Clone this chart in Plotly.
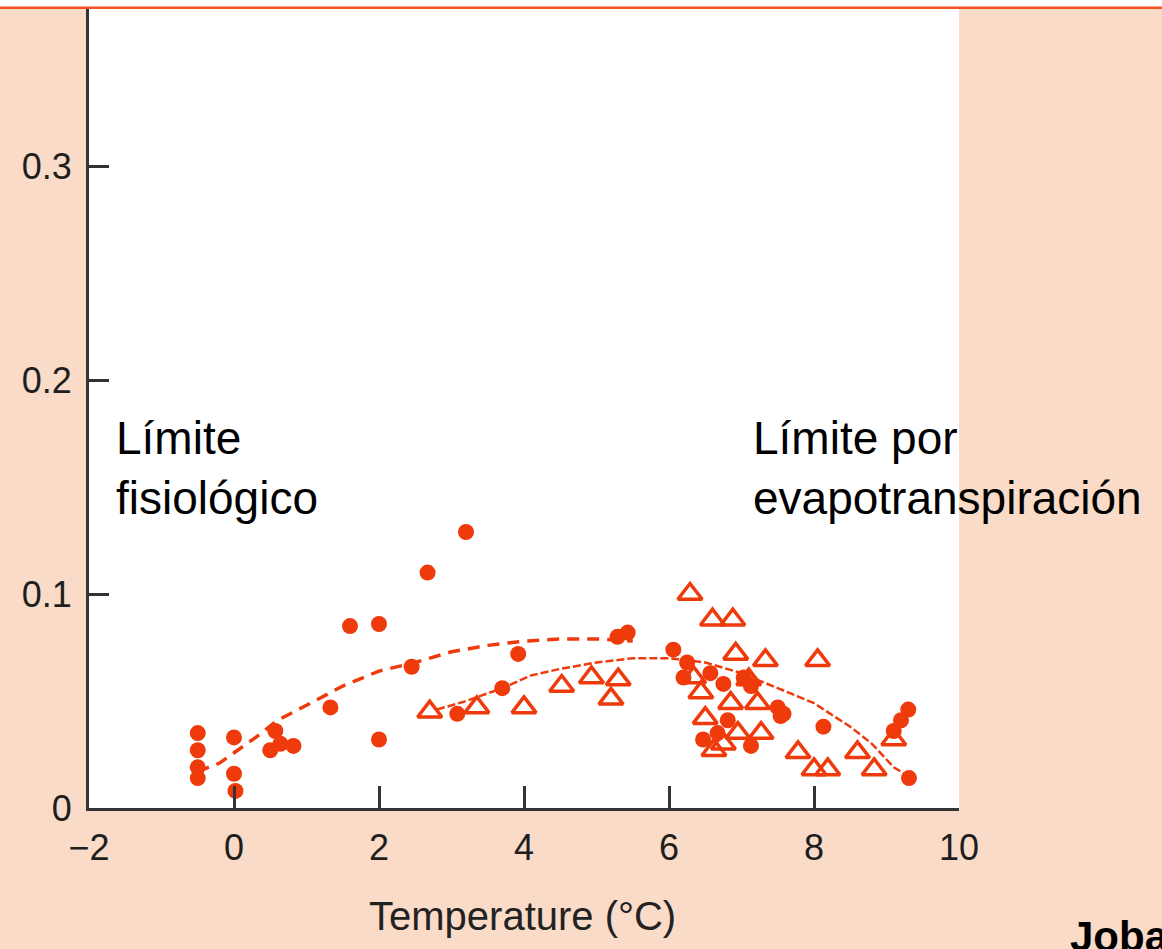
import plotly.graph_objects as go

# ---- data ----
circle_T = [-0.5, -0.5, -0.5, -0.5, 0.0, 0.0, 0.02, 0.5, 0.64, 0.82, 0.57,
            1.33, 1.6, 2.0, 2.0, 2.67, 3.2, 2.45, 3.08, 3.7, 3.92, 5.29, 5.43,
            6.06, 6.25, 6.2, 6.57, 6.75, 7.03, 7.13, 7.5, 7.54, 6.81, 6.67, 7.13, 6.47,
            7.58, 8.13, 9.2, 9.3, 9.1, 9.31]
circle_v = [0.035, 0.027, 0.019, 0.014, 0.033, 0.016, 0.008, 0.027, 0.030, 0.029, 0.036,
            0.047, 0.085, 0.086, 0.032, 0.110, 0.129, 0.066, 0.044, 0.056, 0.072, 0.080, 0.082,
            0.074, 0.068, 0.061, 0.063, 0.058, 0.061, 0.057, 0.047, 0.043, 0.041, 0.035, 0.029, 0.032,
            0.044, 0.038, 0.041, 0.046, 0.036, 0.014]

tri_T = [2.7, 3.35, 4.0, 4.52, 4.93, 5.2, 5.3,
         6.29, 6.6, 6.88, 6.92, 7.33, 6.34, 6.44, 6.85, 7.22, 6.95, 7.27, 6.62, 7.78,
         8.05, 8.0, 8.19, 8.6, 8.83, 9.1, 7.1, 6.5, 6.75]
tri_v = [0.045, 0.047, 0.047, 0.057, 0.061, 0.051, 0.060,
         0.100, 0.088, 0.088, 0.072, 0.069, 0.061, 0.054, 0.049, 0.049, 0.035, 0.035, 0.027, 0.026,
         0.069, 0.018, 0.018, 0.026, 0.018, 0.032, 0.060, 0.042, 0.030]

fit_circle_T = [-0.5, -0.2, 0.3, 0.6, 1.0, 1.5, 2.0, 2.5, 3.0, 3.5, 4.0, 4.5, 5.0, 5.5]
fit_circle_v = [0.017, 0.021, 0.033, 0.041, 0.048, 0.057, 0.064, 0.068, 0.073, 0.076, 0.078, 0.079, 0.079, 0.078]

fit_tri_T = [2.8, 3.2, 3.7, 4.1, 4.5, 5.0, 5.5, 6.0, 6.5, 7.0, 7.5, 8.0, 8.5, 8.8, 9.1, 9.3]
fit_tri_v = [0.046, 0.050, 0.056, 0.062, 0.065, 0.068, 0.070, 0.070, 0.068, 0.063, 0.056, 0.049, 0.038, 0.030, 0.019, 0.015]

x_ticks = [-2, 0, 2, 4, 6, 8, 10]
x_ticktext = ["\u22122", "0", "2", "4", "6", "8", "10"]
y_ticks = [0, 0.1, 0.2, 0.3]
y_ticktext = ["0", "0.1", "0.2", "0.3"]

RED = "#EF3A0C"
AXIS = "#333333"
PEACH = "#F9DBC7"
FONT = "Liberation Sans, Arial, Helvetica, sans-serif"

fig = go.Figure()
fig.add_trace(go.Scatter(x=fit_circle_T, y=fit_circle_v, mode="lines",
                         line=dict(color=RED, width=3.5, dash="12px,8px"),
                         showlegend=False, hoverinfo="skip"))
fig.add_trace(go.Scatter(x=fit_tri_T, y=fit_tri_v, mode="lines",
                         line=dict(color=RED, width=2.5, dash="8px,3px"),
                         showlegend=False, hoverinfo="skip"))
fig.add_trace(go.Scatter(x=tri_T, y=tri_v, mode="markers",
                         marker=dict(symbol="triangle-up-open", size=21, color=RED,
                                     line=dict(color=RED, width=3.5)),
                         showlegend=False))
fig.add_trace(go.Scatter(x=circle_T, y=circle_v, mode="markers",
                         marker=dict(symbol="circle", size=16, color=RED,
                                     line=dict(width=0)),
                         showlegend=False))

plot_w = 1162 - 89 - 203
plot_h = 949 - 9 - 141

fig.update_layout(
    width=1162, height=949,
    margin=dict(l=89, r=203, t=9, b=141, pad=0),
    paper_bgcolor=PEACH, plot_bgcolor="white",
    font=dict(family=FONT, color="#222222"),
    showlegend=False,
    xaxis=dict(range=[-2, 10], tickvals=x_ticks, ticktext=x_ticktext,
               ticks="inside", ticklen=22, tickwidth=3, tickcolor=AXIS,
               showline=True, linecolor=AXIS, linewidth=3,
               showgrid=False, zeroline=False,
               tickfont=dict(size=36, family=FONT, color="#1e1e1e"),
               ticklabelstandoff=6),
    yaxis=dict(range=[0, 0.3734], tickvals=y_ticks, ticktext=y_ticktext,
               ticks="inside", ticklen=20, tickwidth=3, tickcolor=AXIS,
               showline=True, linecolor=AXIS, linewidth=3,
               showgrid=False, zeroline=False,
               tickfont=dict(size=36, family=FONT, color="#1e1e1e"),
               ticklabelstandoff=7),
    shapes=[
        dict(type="rect", xref="paper", yref="paper", x0=-0.2, x1=1.3,
             y0=1.0, y1=1.05, fillcolor="white", line=dict(width=0), layer="above"),
        dict(type="line", xref="paper", yref="paper", x0=-0.2, x1=1.3,
             y0=1.0015, y1=1.0015, line=dict(color="#F4511E", width=2.5), layer="above"),
    ],
    annotations=[
        dict(text="Límite<br>fisiológico", x=-1.66, y=0.159, xref="x", yref="y",
             xanchor="left", yanchor="middle", align="left", showarrow=False,
             font=dict(size=46, family=FONT, color="black")),
        dict(text="Límite por<br>evapotranspiración", x=7.13, y=0.159, xref="x", yref="y",
             xanchor="left", yanchor="middle", align="left", showarrow=False,
             font=dict(size=46, family=FONT, color="black")),
        dict(text="Temperature (°C)", x=(522 - 89) / plot_w, y=(808 - 916) / plot_h,
             xref="paper", yref="paper",
             xanchor="center", yanchor="middle", showarrow=False,
             font=dict(size=40, family=FONT, color="#222222")),
        dict(text="<b>Jobaggy et al.</b>", x=(1068 - 89) / plot_w, y=(808 - 937) / plot_h,
             xref="paper", yref="paper",
             xanchor="left", yanchor="middle", showarrow=False,
             font=dict(size=42, family=FONT, color="black")),
    ],
)

fig.write_html("out.html")
